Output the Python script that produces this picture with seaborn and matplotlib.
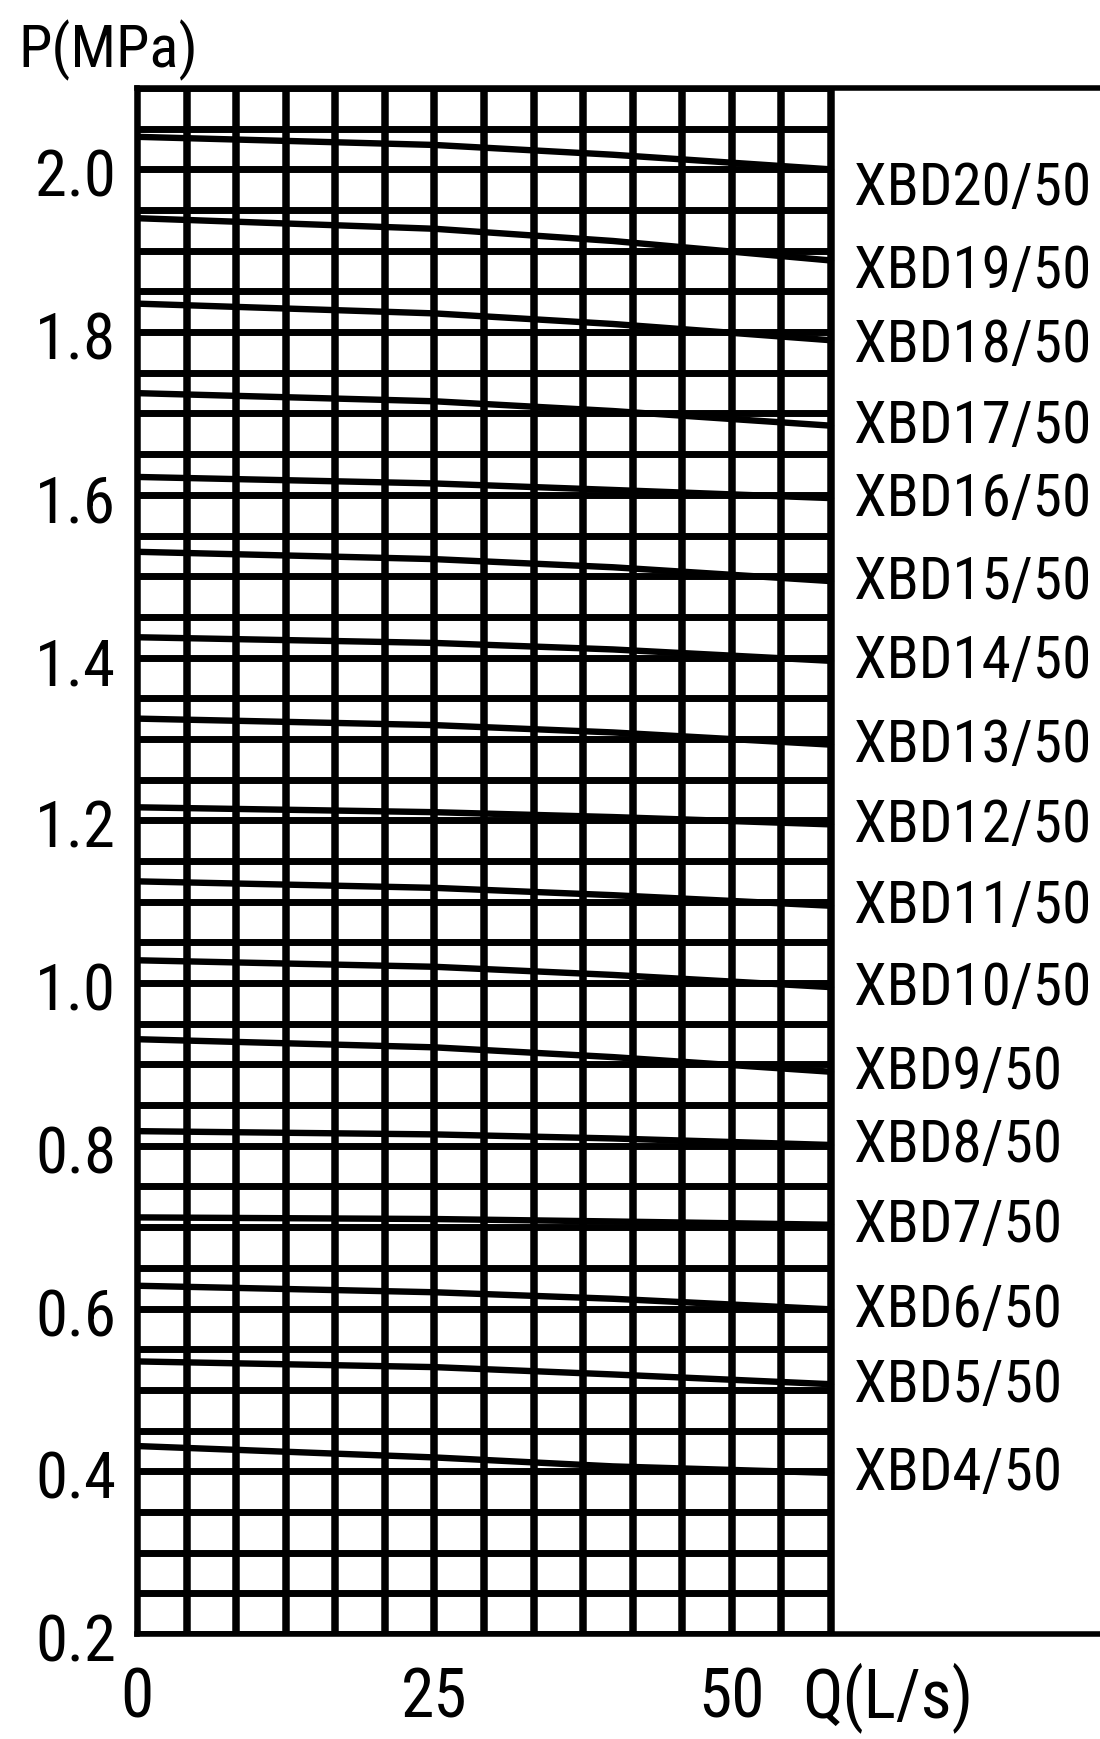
import numpy as np
import pandas as pd
import matplotlib
matplotlib.use("Agg")
import matplotlib.pyplot as plt
from matplotlib import font_manager as fm
from matplotlib.font_manager import FontProperties
from matplotlib.textpath import TextPath
from matplotlib.transforms import ScaledTranslation
import seaborn as sns

# ---- data -------------------------------------------------------------
models = ["XBD20/50", "XBD19/50", "XBD18/50", "XBD17/50", "XBD16/50",
          "XBD15/50", "XBD14/50", "XBD13/50", "XBD12/50", "XBD11/50",
          "XBD10/50", "XBD9/50", "XBD8/50", "XBD7/50", "XBD6/50",
          "XBD5/50", "XBD4/50"]

# flow sample points (L/s)
flow = [0.0, 25.0, 40.0, 58.33]

# pressure (MPa) at each flow point
p_xbd20 = [2.040, 2.030, 2.018, 2.000]
p_xbd19 = [1.940, 1.927, 1.912, 1.888]
p_xbd18 = [1.835, 1.823, 1.810, 1.790]
p_xbd17 = [1.725, 1.715, 1.703, 1.685]
p_xbd16 = [1.622, 1.614, 1.606, 1.596]
p_xbd15 = [1.530, 1.521, 1.511, 1.494]
p_xbd14 = [1.425, 1.418, 1.410, 1.396]
p_xbd13 = [1.325, 1.317, 1.308, 1.293]
p_xbd12 = [1.216, 1.210, 1.204, 1.195]
p_xbd11 = [1.125, 1.117, 1.108, 1.095]
p_xbd10 = [1.028, 1.020, 1.010, 0.995]
p_xbd9 = [0.931, 0.921, 0.909, 0.891]
p_xbd8 = [0.818, 0.814, 0.809, 0.801]
p_xbd7 = [0.712, 0.710, 0.707, 0.703]
p_xbd6 = [0.628, 0.620, 0.612, 0.599]
p_xbd5 = [0.535, 0.528, 0.519, 0.507]
p_xbd4 = [0.431, 0.417, 0.406, 0.398]

pressures = [p_xbd20, p_xbd19, p_xbd18, p_xbd17, p_xbd16, p_xbd15, p_xbd14,
             p_xbd13, p_xbd12, p_xbd11, p_xbd10, p_xbd9, p_xbd8, p_xbd7,
             p_xbd6, p_xbd5, p_xbd4]

x_ticks = [0, 25, 50]
x_tick_labels = ["0", "25", "50"]
y_ticks = [0.2, 0.4, 0.6, 0.8, 1.0, 1.2, 1.4, 1.6, 1.8, 2.0]
y_tick_labels = ["0.2", "0.4", "0.6", "0.8", "1.0", "1.2", "1.4", "1.6", "1.8", "2.0"]

# ---- grid geometry ----------------------------------------------------
Q_STEP = 25.0 / 6.0          # one column of the chart grid
Q_COLS = 14
Q_GRID_MAX = Q_STEP * Q_COLS
P_STEP = 0.05
P_MIN, P_MAX = 0.2, 2.1
Q_VIEW_MAX = Q_GRID_MAX * (1100 - 137) / (831 - 137)

# ---- narrow lettering -------------------------------------------------
# pick the installed sans face whose proportions are closest to a
# condensed drafting letter (width of "XBD20/50" about 5.5 cap heights)
CANDIDATES = {"Liberation Sans Narrow", "Liberation Sans", "DejaVu Sans",
              "Noto Sans", "Roboto", "Roboto Condensed", "Open Sans",
              "Open Sans Condensed", "Lato", "Inter"}
TARGET_RATIO = 5.5


def weight_num(w):
    if isinstance(w, str):
        return fm.weight_dict.get(w, 400)
    return int(w)


def measure(path):
    prop = FontProperties(fname=path)
    wide = TextPath((0, 0), "XBD20/50", size=100, prop=prop).get_extents()
    cap = TextPath((0, 0), "X", size=100, prop=prop).get_extents()
    return wide.width / cap.height, cap.height / 100.0


best = None
for entry in fm.fontManager.ttflist:
    if entry.name not in CANDIDATES or entry.style != "normal":
        continue
    if not (400 <= weight_num(entry.weight) <= 500):
        continue
    if not entry.fname.lower().endswith((".ttf", ".otf")):
        continue
    try:
        ratio, cap_frac = measure(entry.fname)
    except Exception:
        continue
    score = abs(ratio - TARGET_RATIO)
    if best is None or score < best[0]:
        best = (score, entry.fname, cap_frac)

if best is None:
    path = fm.findfont("DejaVu Sans")
    best = (0.0, path, measure(path)[1])
FONT_PATH, CAP_FRAC = best[1], best[2]


def letter(cap_px):
    """Font properties giving capitals cap_px pixels tall at 100 dpi."""
    return FontProperties(fname=FONT_PATH, size=cap_px / (CAP_FRAC * 100 / 72))


# ---- figure -----------------------------------------------------------
sns.set_style("white")
plt.rcParams["text.color"] = "black"
plt.rcParams["xtick.color"] = "black"
plt.rcParams["ytick.color"] = "black"

fig = plt.figure(figsize=(11, 17.4), dpi=100)
ax = fig.add_axes([137 / 1100, 1 - 1635 / 1740, 1 - 137 / 1100, (1635 - 89) / 1740])

# grid lines, limited to the chart area
q_lines = np.arange(Q_COLS + 1) * Q_STEP
p_lines = P_MIN + np.arange(int(round((P_MAX - P_MIN) / P_STEP)) + 1) * P_STEP
ax.vlines(q_lines, P_MIN, P_MAX, colors="black", linewidth=5.4, zorder=1)
ax.hlines(p_lines, 0, Q_GRID_MAX, colors="black", linewidth=5.0, zorder=1)

# pump curves
df = pd.DataFrame({
    "Q": np.tile(flow, len(models)),
    "P": np.concatenate(pressures),
    "model": np.repeat(models, len(flow)),
})
sns.lineplot(data=df, x="Q", y="P", hue="model", palette=["black"] * len(models),
             legend=False, linewidth=4.6, ax=ax, zorder=2)

# model names at the curve ends
nudge = {"XBD20/50": -0.022, "XBD19/50": -0.012, "XBD18/50": -0.005}
for name, p in zip(models, pressures):
    ax.text(60.3, p[-1] + nudge.get(name, 0.0), name, fontproperties=letter(42),
            ha="left", va="center")

ax.set_xlim(0, Q_VIEW_MAX)
ax.set_ylim(P_MIN, P_MAX)
ax.set_xticks(x_ticks)
ax.set_xticklabels(x_tick_labels)
ax.set_yticks(y_ticks)
ax.set_yticklabels(y_tick_labels)
ax.tick_params(axis="x", length=0, pad=22)
ax.tick_params(axis="y", length=0, pad=15)
ax.set_xlabel("")
ax.set_ylabel("")
for lab in ax.get_xticklabels():
    lab.set_fontproperties(letter(48))
shift_down = ScaledTranslation(0, -2 / 100, fig.dpi_scale_trans)
for lab in ax.get_yticklabels():
    lab.set_fontproperties(letter(46))
    lab.set_transform(lab.get_transform() + shift_down)

for side in ("top", "bottom", "left"):
    ax.spines[side].set_visible(True)
    ax.spines[side].set_color("black")
    ax.spines[side].set_linewidth(4.0)
ax.spines["right"].set_visible(False)

fig.text(888 / 1100, 1 - 1698 / 1740, "Q(L/s)", fontproperties=letter(48),
         ha="center", va="center")
fig.text(108 / 1100, 1 - 50 / 1740, "P(MPa)", fontproperties=letter(43),
         ha="center", va="center")

fig.savefig("out.png", dpi=100, facecolor="white")
